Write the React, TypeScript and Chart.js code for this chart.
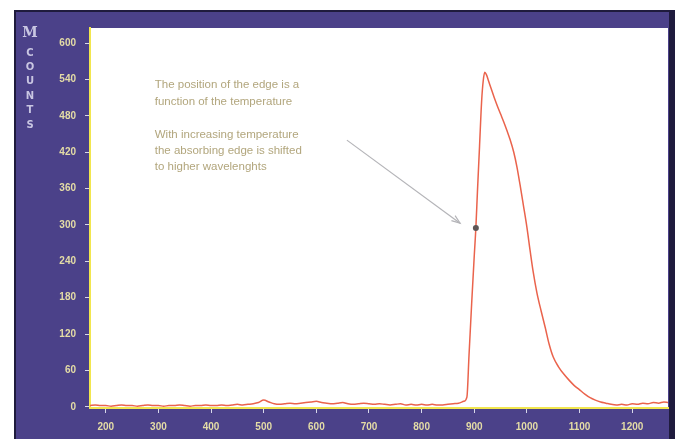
import React, { useEffect, useRef } from "react";
import { Chart, registerables } from "chart.js";

Chart.register(...registerables);

// Spectrum: wavelength (nm) vs counts
const wavelengths = [
  170, 180, 190, 200, 210, 220, 230, 240, 250, 260, 270, 280, 290, 300, 310, 320,
  330, 340, 350, 360, 370, 380, 390, 400, 410, 420, 430, 440, 450, 460, 470, 480,
  490, 500, 510, 520, 530, 540, 550, 560, 570, 580, 590, 600, 610, 620, 630, 640,
  650, 660, 670, 680, 690, 700, 710, 720, 730, 740, 750, 760, 770, 780, 790, 800,
  810, 820, 830, 840, 850, 860, 870, 880, 886, 890, 895, 900, 903, 906, 910, 914,
  917, 920, 923, 927, 932, 938, 944, 950, 956, 962, 968, 975, 981, 987, 993, 1000,
  1006, 1012, 1019, 1027, 1035, 1042, 1050, 1060, 1070, 1080, 1090, 1100, 1110, 1120,
  1130, 1140, 1150, 1160, 1170, 1180, 1190, 1200, 1210, 1220, 1230, 1240, 1250, 1260, 1268,
];
const counts = [
  2, 3, 2, 2, 1, 2, 3, 2, 2, 1, 2, 3, 2, 2, 1, 2,
  2, 3, 2, 1, 2, 2, 3, 2, 2, 3, 2, 3, 4, 3, 4, 5,
  7, 11, 8, 5, 4, 5, 6, 5, 6, 7, 8, 9, 7, 6, 5, 6,
  7, 5, 4, 5, 6, 5, 4, 5, 4, 3, 4, 5, 3, 4, 3, 4,
  3, 4, 3, 3, 4, 5, 6, 9, 16, 85, 170, 250, 295, 355, 430, 505,
  538, 552, 548, 538, 525, 510, 496, 483, 470, 456, 441, 420, 396, 366, 334, 296,
  258, 222, 188, 158, 130, 104, 82, 66, 54, 44, 35, 28, 21, 15,
  11, 8, 6, 4, 3, 4, 3, 5, 4, 6, 5, 7, 6, 8, 7,
];

// Marked point on the absorbing edge
const markerPoint = { x: 903, y: 295 };

const xTicks = [200, 300, 400, 500, 600, 700, 800, 900, 1000, 1100, 1200];
const yTicks = [0, 60, 120, 180, 240, 300, 360, 420, 480, 540, 600];

const axisLetters = ["M", "C", "O", "U", "N", "T", "S"];

const noteLines1 = ["The position of the edge is a", "function of the temperature"];
const noteLines2 = [
  "With increasing temperature",
  "the absorbing edge is shifted",
  "to higher wavelenghts",
];
// data-space anchors for the note and arrow
const noteAnchor = { x: 293, y: 531 };
const arrowFrom = { x: 658, y: 440 };
const arrowTo = { x: 873, y: 303 };

const PURPLE = "#4b4189";
const DARK = "#1f1b3d";
const TICK_TEXT = "#e4dca6";

const framePlugin = {
  id: "frame",
  beforeDraw(chart: any) {
    const { ctx, width, height, chartArea } = chart;
    ctx.save();
    ctx.fillStyle = "#ffffff";
    ctx.fillRect(0, 0, width, height);
    ctx.fillStyle = DARK;
    ctx.fillRect(14, 10, width - 14, height - 10);
    ctx.fillStyle = PURPLE;
    ctx.fillRect(16, 12, width - 16 - 6, height - 12);
    ctx.fillStyle = "#ffffff";
    ctx.fillRect(chartArea.left, chartArea.top, chartArea.right - chartArea.left, chartArea.bottom - chartArea.top);
    ctx.restore();
  },
};

const overlayPlugin = {
  id: "overlay",
  afterDraw(chart: any) {
    const { ctx } = chart;
    const xs = chart.scales.x;
    const ys = chart.scales.y;
    ctx.save();
    // vertical axis title letters
    ctx.fillStyle = "#c9c6e2";
    ctx.textAlign = "center";
    ctx.textBaseline = "middle";
    axisLetters.forEach((ch, i) => {
      if (i === 0) {
        ctx.font = "bold 14px 'DejaVu Serif', serif";
        ctx.fillText(ch, 30, 33);
      } else {
        ctx.font = "bold 10px 'DejaVu Sans', sans-serif";
        ctx.fillText(ch, 30, 53 + (i - 1) * 14.4);
      }
    });

    // note text
    ctx.fillStyle = "#b2a67d";
    ctx.font = "11.5px 'Liberation Sans', Arial, sans-serif";
    ctx.textAlign = "left";
    ctx.textBaseline = "middle";
    const tx = xs.getPixelForValue(noteAnchor.x);
    const ty = ys.getPixelForValue(noteAnchor.y);
    noteLines1.forEach((l, i) => ctx.fillText(l, tx, ty + i * 16.5));
    noteLines2.forEach((l, i) => ctx.fillText(l, tx, ty + 50 + i * 16));

    // arrow
    const x1 = xs.getPixelForValue(arrowFrom.x);
    const y1 = ys.getPixelForValue(arrowFrom.y);
    const x2 = xs.getPixelForValue(arrowTo.x);
    const y2 = ys.getPixelForValue(arrowTo.y);
    ctx.strokeStyle = "#b4b4b8";
    ctx.lineWidth = 1.2;
    ctx.beginPath();
    ctx.moveTo(x1, y1);
    ctx.lineTo(x2, y2);
    ctx.stroke();
    const ang = Math.atan2(y2 - y1, x2 - x1);
    const hl = 9;
    ctx.beginPath();
    ctx.moveTo(x2 - hl * Math.cos(ang - 0.35), y2 - hl * Math.sin(ang - 0.35));
    ctx.lineTo(x2, y2);
    ctx.lineTo(x2 - hl * Math.cos(ang + 0.35), y2 - hl * Math.sin(ang + 0.35));
    ctx.stroke();
    ctx.restore();
  },
};

export default function App() {
  const ref = useRef<HTMLCanvasElement | null>(null);
  useEffect(() => {
    document.body.style.margin = "0";
    const data = wavelengths.map((w, i) => ({ x: w, y: counts[i] }));
    const tickFont = { family: "'Liberation Sans', Arial, sans-serif", size: 10, weight: "bold" as const };
    const chart = new Chart(ref.current as HTMLCanvasElement, {
      type: "line",
      data: {
        datasets: [
          {
            data: [markerPoint],
            showLine: false,
            pointRadius: 3,
            pointBackgroundColor: "#5e5656",
            pointBorderWidth: 0,
          },
          {
            data,
            borderColor: "#ea634c",
            borderWidth: 1.5,
            pointRadius: 0,
            cubicInterpolationMode: "monotone",
            fill: false,
          },
        ],
      },
      options: {
        animation: false,
        responsive: false,
        maintainAspectRatio: false,
        layout: { padding: { top: 28, right: 7, left: 0, bottom: 0 } },
        plugins: { legend: { display: false }, tooltip: { enabled: false } },
        scales: {
          x: {
            type: "linear",
            min: 170,
            max: 1268,
            afterBuildTicks: (s: any) => {
              s.ticks = xTicks.map((v) => ({ value: v }));
            },
            afterFit: (s: any) => {
              s.height = 31;
            },
            border: { color: "#f2e64e", width: 2 },
            grid: { drawOnChartArea: false, color: "#d8d8ea", tickLength: 5 },
            ticks: {
              color: TICK_TEXT,
              padding: 8,
              maxRotation: 0,
              autoSkip: false,
              font: tickFont,
              callback: (v: any) => String(v),
            },
          },
          y: {
            type: "linear",
            min: -2,
            max: 625,
            afterBuildTicks: (s: any) => {
              s.ticks = yTicks.map((v) => ({ value: v }));
            },
            afterFit: (s: any) => {
              s.width = 90;
            },
            border: { color: "#f2e64e", width: 2 },
            grid: { drawOnChartArea: false, color: "#d8d8ea", tickLength: 5 },
            ticks: {
              color: TICK_TEXT,
              padding: 9,
              autoSkip: false,
              font: tickFont,
              callback: (v: any) => String(v),
            },
          },
        },
      },
      plugins: [framePlugin, overlayPlugin],
    });
    return () => chart.destroy();
  }, []);
  return <canvas ref={ref} width={675} height={439} style={{ display: "block" }} />;
}
